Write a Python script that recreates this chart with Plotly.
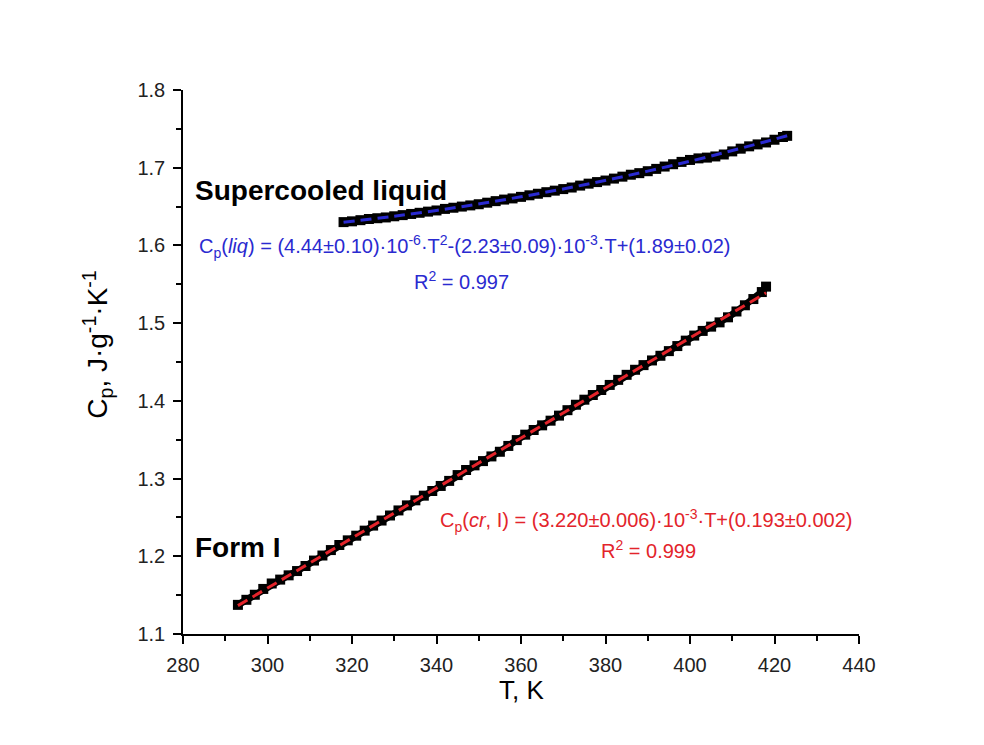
import plotly.graph_objects as go

# Form I (crystal) measured heat capacity
formI_T = [293, 295, 297, 299, 301, 303, 305, 307, 309, 311, 313, 315, 317, 319, 321, 323,
           325, 327, 329, 331, 333, 335, 337, 339, 341, 343, 345, 347, 349, 351, 353, 355,
           357, 359, 361, 363, 365, 367, 369, 371, 373, 375, 377, 379, 381, 383, 385, 387,
           389, 391, 393, 395, 397, 399, 401, 403, 405, 407, 409, 411, 413, 415, 417, 418]
formI_Cp = [1.1375, 1.1440, 1.1505, 1.1580, 1.1650, 1.1700, 1.1755, 1.1810, 1.1875, 1.1945,
            1.2010, 1.2080, 1.2145, 1.2205, 1.2265, 1.2330, 1.2395, 1.2460, 1.2525, 1.2590,
            1.2655, 1.2720, 1.2780, 1.2840, 1.2905, 1.2970, 1.3045, 1.3110, 1.3170, 1.3225,
            1.3285, 1.3345, 1.3420, 1.3495, 1.3565, 1.3625, 1.3685, 1.3745, 1.3810, 1.3880,
            1.3950, 1.4015, 1.4075, 1.4140, 1.4205, 1.4270, 1.4335, 1.4400, 1.4460, 1.4520,
            1.4580, 1.4640, 1.4705, 1.4775, 1.4840, 1.4900, 1.4955, 1.5010, 1.5075, 1.5150,
            1.5230, 1.5310, 1.5400, 1.5470]

# Supercooled liquid measured heat capacity
liq_T = [318, 320, 322, 324, 326, 328, 330, 332, 334, 336, 338, 340, 342, 344, 346, 348,
         350, 352, 354, 356, 358, 360, 362, 364, 366, 368, 370, 372, 374, 376, 378, 380,
         382, 384, 386, 388, 390, 392, 394, 396, 398, 400, 402, 404, 406, 408, 410, 412,
         414, 416, 418, 420, 422, 423]
liq_Cp = [1.6300, 1.6310, 1.6325, 1.6340, 1.6350, 1.6360, 1.6375, 1.6390, 1.6405, 1.6420,
          1.6435, 1.6450, 1.6470, 1.6485, 1.6500, 1.6515, 1.6530, 1.6550, 1.6570, 1.6590,
          1.6605, 1.6625, 1.6645, 1.6665, 1.6685, 1.6705, 1.6725, 1.6745, 1.6770, 1.6795,
          1.6815, 1.6835, 1.6860, 1.6885, 1.6910, 1.6930, 1.6955, 1.6985, 1.7015, 1.7045,
          1.7075, 1.7100, 1.7120, 1.7130, 1.7145, 1.7170, 1.7210, 1.7245, 1.7275, 1.7300,
          1.7325, 1.7360, 1.7395, 1.7410]

# Fit curves
fitI_T = [293, 418]
fitI_Cp = [1.1365, 1.5390]
fitL_T = [318, 330, 345, 360, 375, 390, 405, 423]
fitL_Cp = [1.6299, 1.6376, 1.6491, 1.6626, 1.6781, 1.6956, 1.7151, 1.7411]

x_ticks = [280, 300, 320, 340, 360, 380, 400, 420, 440]
y_ticks = [1.1, 1.2, 1.3, 1.4, 1.5, 1.6, 1.7, 1.8]

FONT = "Arial, Liberation Sans, sans-serif"
RED = "#e3242b"
BLUE = "#2a2ad0"

fig = go.Figure()
for T, Cp in [(formI_T, formI_Cp), (liq_T, liq_Cp)]:
    fig.add_trace(go.Scatter(x=T, y=Cp, mode="lines+markers",
                             line=dict(color="black", width=7),
                             marker=dict(symbol="square", size=10, color="black"),
                             showlegend=False, hoverinfo="skip"))
fig.add_trace(go.Scatter(x=fitI_T, y=fitI_Cp, mode="lines",
                         line=dict(color=RED, width=3, dash="11px,6px"),
                         showlegend=False))
fig.add_trace(go.Scatter(x=fitL_T, y=fitL_Cp, mode="lines", line_shape="spline",
                         line=dict(color=BLUE, width=3, dash="11px,6px"),
                         showlegend=False))

axis_common = dict(showgrid=False, zeroline=False, showline=True, linecolor="black",
                   linewidth=1.5, ticks="outside", ticklen=8, tickwidth=1.5,
                   tickcolor="black", mirror=False, ticklabelstandoff=4,
                   tickfont=dict(family=FONT, size=20, color="#222222"))

fig.update_xaxes(range=[280, 440], tickvals=x_ticks, ticktext=[str(v) for v in x_ticks],
                 minor=dict(ticks="outside", ticklen=5, tickwidth=1.5, tickcolor="black",
                            dtick=10, tick0=280),
                 **axis_common)
fig.update_yaxes(range=[1.1, 1.8], tickvals=y_ticks, ticktext=[f"{v:.1f}" for v in y_ticks],
                 minor=dict(ticks="outside", ticklen=5, tickwidth=1.5, tickcolor="black",
                            dtick=0.05, tick0=1.1),
                 **axis_common)

annots = [
    dict(x=282.4, y=1.6713, text="<b>Supercooled liquid</b>", xanchor="left",
         font=dict(family=FONT, size=28, color="black")),
    dict(x=346.7, y=1.5992,
         text="C<sub>p</sub>(<i>liq</i>) = (4.44±0.10)·10<sup>-6</sup>·T<sup>2</sup>-(2.23±0.09)·10<sup>-3</sup>·T+(1.89±0.02)",
         xanchor="center", font=dict(family=FONT, size=20, color=BLUE)),
    dict(x=346.0, y=1.5545, text="R<sup>2</sup> = 0.997", xanchor="center",
         font=dict(family=FONT, size=20, color=BLUE)),
    dict(x=389.6, y=1.2466,
         text="C<sub>p</sub>(<i>cr</i>, I) = (3.220±0.006)·10<sup>-3</sup>·T+(0.193±0.002)",
         xanchor="center", font=dict(family=FONT, size=20, color=RED)),
    dict(x=390.1, y=1.2093, text="R<sup>2</sup> = 0.999", xanchor="center",
         font=dict(family=FONT, size=20, color=RED)),
    dict(x=282.4, y=1.2119, text="<b>Form I</b>", xanchor="left",
         font=dict(family=FONT, size=28, color="black")),
]
for a in annots:
    fig.add_annotation(xref="x", yref="y", showarrow=False, yanchor="middle", **a)

fig.add_annotation(xref="paper", yref="paper", x=0.5, y=-0.103, text="T, K",
                   showarrow=False, xanchor="center", yanchor="middle",
                   font=dict(family=FONT, size=26, color="black"))
fig.add_annotation(xref="paper", yref="paper", x=-0.127, y=0.532,
                   text="C<sub>p</sub>, J·g<sup>-1</sup>·K<sup>-1</sup>", textangle=-90,
                   showarrow=False, xanchor="center", yanchor="middle",
                   font=dict(family=FONT, size=28, color="black"))

# page body adds an 8px offset; size the figure so the plot area lands where the reference's does
fig.update_layout(width=976, height=737,
                  margin=dict(l=175, r=125, t=82, b=111, autoexpand=False),
                  paper_bgcolor="white", plot_bgcolor="white")

fig.write_html("out.html")
